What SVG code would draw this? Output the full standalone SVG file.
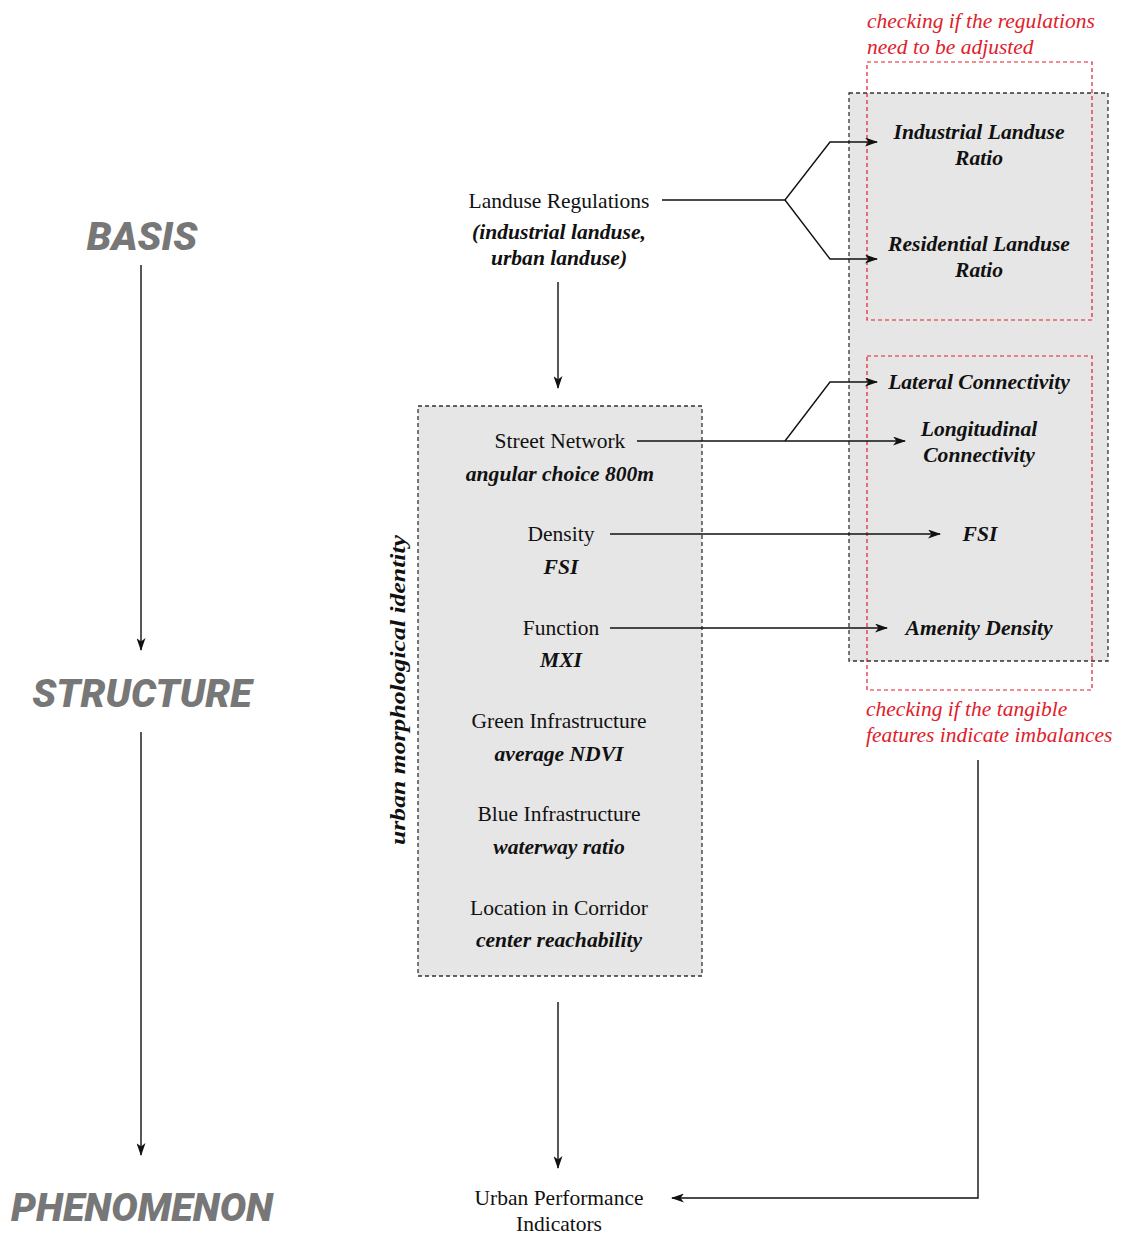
<svg xmlns="http://www.w3.org/2000/svg" width="1121" height="1236" viewBox="0 0 1121 1236">
<defs>
<marker id="arr" viewBox="0 0 13 9" refX="12" refY="4.5" markerWidth="13" markerHeight="9" markerUnits="userSpaceOnUse" orient="auto">
<path d="M0,0 L13,4.5 L0,9 L3.5,4.5 z" fill="#111"/>
</marker>
<style>
.stage{font-family:Roboto,"Liberation Sans",sans-serif;font-weight:900;font-style:italic;font-size:39.5px;fill:#777;text-anchor:middle}
.reg{font-family:"Liberation Serif",serif;font-size:21.5px;fill:#111;text-anchor:middle}
.bi{font-family:"Liberation Serif",serif;font-size:21.6px;font-weight:bold;font-style:italic;fill:#111;text-anchor:middle}
.red{font-family:"Liberation Serif",serif;font-size:21.5px;font-style:italic;fill:#e0202a}
.box{fill:#e6e6e6;stroke:#333;stroke-width:1.3;stroke-dasharray:4 3}
.rbox{fill:none;stroke:#e0202a;stroke-width:1.2;stroke-dasharray:4 3}
.ln{fill:none;stroke:#111;stroke-width:1.4}
</style>
</defs>
<rect width="1121" height="1236" fill="#fff"/>

<g id="stages">
<text class="stage" x="142" y="250">BASIS</text>
<text class="stage" x="142" y="707">STRUCTURE</text>
<text class="stage" x="142" y="1221">PHENOMENON</text>
</g>

<g id="right-box">
<rect class="box" x="849" y="93" width="259" height="568"/>
</g>
<g id="left-box">
<rect class="box" x="418" y="406" width="284" height="570"/>
<text class="bi" font-size="29" textLength="310" lengthAdjust="spacingAndGlyphs" transform="translate(405,690) rotate(-90)">urban morphological identity</text>
</g>
<g id="red-frames">
<rect class="rbox" x="867" y="62" width="225" height="258"/>
<rect class="rbox" x="867" y="356" width="225" height="334"/>
<text class="red" x="867" y="28">checking if the regulations</text>
<text class="red" x="867" y="54">need to be adjusted</text>
<text class="red" x="866" y="716">checking if the tangible</text>
<text class="red" x="866" y="742">features indicate imbalances</text>
</g>

<g id="connectors">
<line class="ln" x1="141" y1="265" x2="141" y2="650" marker-end="url(#arr)"/>
<line class="ln" x1="141" y1="732" x2="141" y2="1155" marker-end="url(#arr)"/>
<polyline class="ln" points="662,200 785,200 830,142 877,142" marker-end="url(#arr)"/>
<polyline class="ln" points="785,200 830,259 877,259" marker-end="url(#arr)"/>
<line class="ln" x1="558" y1="282" x2="558" y2="388" marker-end="url(#arr)"/>
<line class="ln" x1="637" y1="441" x2="905" y2="441" marker-end="url(#arr)"/>
<polyline class="ln" points="785,441 830,382 877,382" marker-end="url(#arr)"/>
<line class="ln" x1="610" y1="534" x2="940" y2="534" marker-end="url(#arr)"/>
<line class="ln" x1="610" y1="628" x2="887" y2="628" marker-end="url(#arr)"/>
<line class="ln" x1="558" y1="1002" x2="558" y2="1168" marker-end="url(#arr)"/>
<polyline class="ln" points="978,760 978,1198 672,1198" marker-end="url(#arr)"/>
</g>

<g id="landuse-regulations">
<text class="reg" x="559" y="208">Landuse Regulations</text>
<text class="bi" x="559" y="239">(industrial landuse,</text>
<text class="bi" x="559" y="265">urban landuse)</text>
</g>
<g id="street-network">
<text class="reg" x="560" y="448">Street Network</text>
<text class="bi" x="560" y="481">angular choice 800m</text>
</g>
<g id="density">
<text class="reg" x="561" y="541">Density</text>
<text class="bi" x="561" y="574">FSI</text>
</g>
<g id="function">
<text class="reg" x="561" y="635">Function</text>
<text class="bi" x="561" y="667">MXI</text>
</g>
<g id="green-infrastructure">
<text class="reg" x="559" y="728">Green Infrastructure</text>
<text class="bi" x="559" y="761">average NDVI</text>
</g>
<g id="blue-infrastructure">
<text class="reg" x="559" y="821">Blue Infrastructure</text>
<text class="bi" x="559" y="854">waterway ratio</text>
</g>
<g id="location-in-corridor">
<text class="reg" x="559" y="915">Location in Corridor</text>
<text class="bi" x="559" y="947">center reachability</text>
</g>

<g id="industrial-landuse-ratio">
<text class="bi" x="979" y="139">Industrial Landuse</text>
<text class="bi" x="979" y="165">Ratio</text>
</g>
<g id="residential-landuse-ratio">
<text class="bi" x="979" y="251">Residential Landuse</text>
<text class="bi" x="979" y="277">Ratio</text>
</g>
<g id="lateral-connectivity">
<text class="bi" x="979" y="389">Lateral Connectivity</text>
</g>
<g id="longitudinal-connectivity">
<text class="bi" x="979" y="436">Longitudinal</text>
<text class="bi" x="979" y="462">Connectivity</text>
</g>
<g id="fsi">
<text class="bi" x="980" y="541">FSI</text>
</g>
<g id="amenity-density">
<text class="bi" x="979" y="635">Amenity Density</text>
</g>

<g id="urban-performance-indicators">
<text class="reg" x="559" y="1205">Urban Performance</text>
<text class="reg" x="559" y="1231">Indicators</text>
</g>
</svg>
